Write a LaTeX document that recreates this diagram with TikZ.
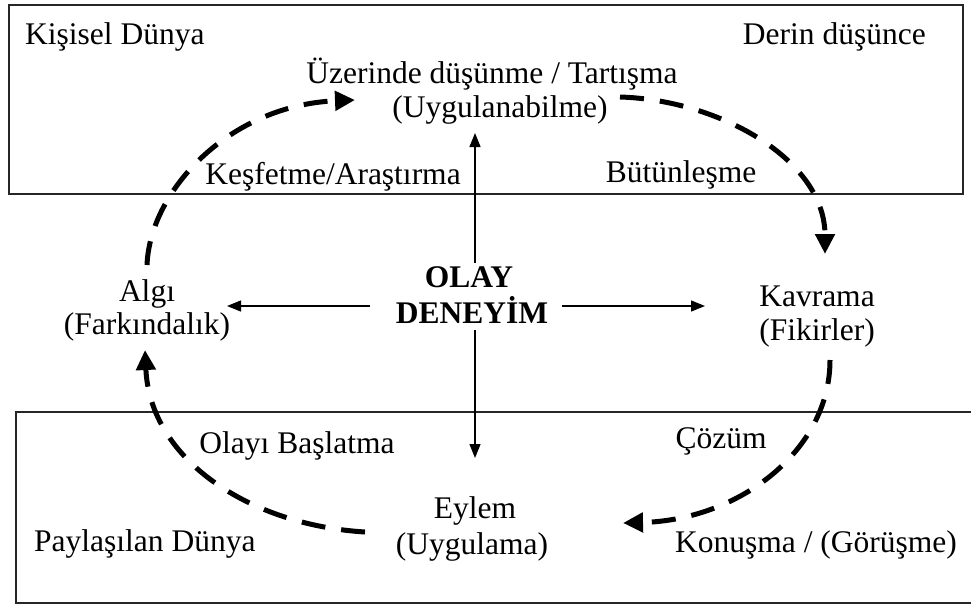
\documentclass[tikz,border=0pt]{standalone}
\usepackage{fontspec}
\setmainfont{Liberation Serif}
\usetikzlibrary{arrows.meta}
\begin{document}
\begin{tikzpicture}[x=1pt,y=-1pt,
  lbl/.style={font=\fontsize{31.5}{36}\selectfont, inner sep=0pt, anchor=base},
  boldlbl/.style={font=\fontsize{31.5}{36}\selectfont\bfseries, inner sep=0pt, anchor=base},
  frame/.style={line width=2pt, draw=black!85},
  thinarrow/.style={line width=1.3pt, -{Triangle[length=14pt,width=11pt]}},
  cyclearrow/.style={line width=5pt, dash pattern=on 24pt off 16pt, -{Triangle[length=20pt,width=19pt]}}]
\useasboundingbox (0,0) rectangle (971,608);
% frames
\draw[frame] (9,5) rectangle (963,194);
\draw[frame] (980,412) -- (16,412) -- (16,603) -- (980,603);
% labels
\node[lbl, anchor=base west] (kisisel) at (25,44) {Kişisel Dünya};
\node[lbl, anchor=base east] (derin) at (926,44) {Derin düşünce};
\node[lbl] (uzerinde) at (492,83) {Üzerinde düşünme / Tartışma};
\node[lbl] (uygulanabilme) at (500,117) {(Uygulanabilme)};
\node[lbl] (kesfetme) at (333,184) {Keşfetme/Araştırma};
\node[lbl] (butunlesme) at (681,182) {Bütünleşme};
\node[lbl] (algi) at (147,301) {Algı};
\node[lbl] (farkindalik) at (147,334) {(Farkındalık)};
\node[lbl] (kavrama) at (817,306) {Kavrama};
\node[lbl] (fikirler) at (817,340) {(Fikirler)};
\node[boldlbl] (olay) at (469,287) {OLAY};
\node[boldlbl] (deneyim) at (472,323) {DENEYİM};
\node[lbl] (baslatma) at (297,453) {Olayı Başlatma};
\node[lbl] (cozum) at (721,448) {Çözüm};
\node[lbl] (eylem) at (475,518) {Eylem};
\node[lbl] (uygulama) at (472,554) {(Uygulama)};
\node[lbl, anchor=base west] (paylasilan) at (34,551) {Paylaşılan Dünya};
\node[lbl] (konusma) at (816,552) {Konuşma / (Görüşme)};
% central arrows
\node[inner sep=0pt, minimum width=192pt, minimum height=67pt] (event) at (475,296.5) {};
\coordinate (tipU) at (475,133);
\coordinate (tipD) at (475,458);
\coordinate (tipL) at (227,306);
\coordinate (tipR) at (705,306);
\coordinate (stL) at (370,306);
\coordinate (stR) at (562,306);
\draw[thinarrow] (event.north) -- (tipU);
\draw[thinarrow] (event.south) -- (tipD);
\draw[thinarrow] (stL) -- (tipL);
\draw[thinarrow] (stR) -- (tipR);
% dashed cycle
\coordinate (a1s) at (147,265);
\coordinate (a1e) at (355,100);
\coordinate (a2s) at (620,97);
\coordinate (a2e) at (825,254);
\coordinate (a3s) at (830,360);
\coordinate (a3e) at (623,523);
\coordinate (a4s) at (365,532);
\coordinate (a4e) at (145,350);
\draw[cyclearrow] (a1s) .. controls (150,190) and (230,105) .. (a1e);
\draw[cyclearrow] (a2s) .. controls (720,100) and (825,160) .. (a2e);
\draw[cyclearrow] (a3s) .. controls (830,450) and (740,520) .. (a3e);
\draw[cyclearrow] (a4s) .. controls (250,525) and (150,460) .. (a4e);
\end{tikzpicture}
\end{document}
